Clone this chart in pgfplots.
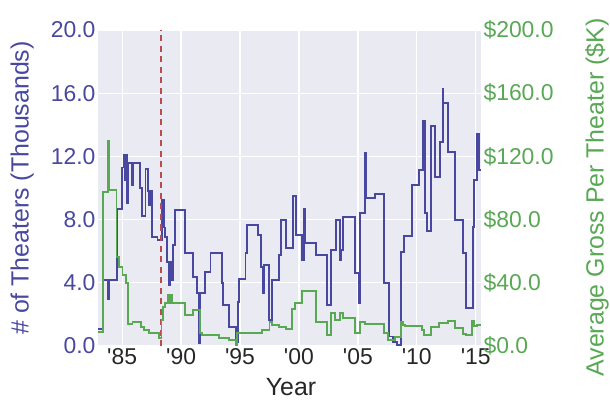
\documentclass[border=0pt]{standalone}
\usepackage{fontspec}
\setmainfont{Liberation Sans}[Ligatures=TeXOff]
\usepackage{pgfplots}
\pgfplotsset{compat=1.18}
\definecolor{cblue}{RGB}{72,72,160}
\definecolor{cgreen}{RGB}{88,168,84}
\definecolor{cred}{RGB}{184,76,78}
\definecolor{bgc}{RGB}{234,234,242}
\begin{document}
\begin{tikzpicture}
\begin{axis}[
  at={(0,0)}, anchor=south west,
  width=383bp, height=316bp, scale only axis,
  xmin=1982.95, xmax=2015.45, ymin=0, ymax=20,
  xtick={1985,1990,1995,2000,2005,2010,2015},
  xticklabels={'85,'90,'95,'00,'05,'10,'15},
  ytick={0,4,8,12,16,20},
  yticklabels={0.0,4.0,8.0,12.0,16.0,20.0},
  grid=major,
  major grid style={white, line width=1.3bp},
  axis line style={draw=none},
  major tick length=0pt,
  axis background/.style={fill=bgc},
  tick label style={font=\fontsize{23}{27}\selectfont},
  yticklabel style={text=cblue, xshift=1bp},
  xticklabel style={text=black!85, yshift=1bp},
  xlabel={Year},
  ylabel={\# of Theaters (Thousands)},
  label style={font=\fontsize{25}{29}\selectfont},
  xlabel style={at={(axis description cs:0.504,-0.13)}, anchor=center, text=black!85},
  ylabel style={at={(axis description cs:-0.198,0.5)}, anchor=center, rotate=0, text=cblue},
  clip=true,
]
\addplot[cblue, line width=1.9bp, const plot] coordinates {
(1982.95,1.1) (1983.39,4.16) (1983.80,3.0) (1983.90,4.16) (1984.55,8.65)
(1985.0,11.3) (1985.15,12.1) (1985.25,10.5) (1985.32,12.1) (1985.44,9.05)
(1985.52,11.6) (1985.85,10.2) (1985.92,11.6) (1986.5,10.0) (1986.7,8.2)
(1986.98,11.2) (1987.18,9.8) (1987.27,8.9) (1987.33,9.8) (1987.5,6.9)
(1988.0,6.7) (1988.4,9.24) (1988.55,7.5) (1988.65,6.9) (1988.8,5.34)
(1988.95,3.86) (1989.05,5.34) (1989.2,4.2) (1989.35,6.4) (1989.45,8.6)
(1990.3,5.87) (1991.03,4.39) (1991.37,3.35) (1991.5,0.2) (1991.58,3.35)
(1992.02,4.7) (1992.5,5.87) (1993.49,3.96) (1993.57,2.59) (1994.06,1.22)
(1994.63,0.27) (1994.82,2.8) (1994.9,4.22) (1995.47,5.87) (1995.61,7.66)
(1996.54,7.03) (1996.8,5.02) (1996.95,3.35) (1997.02,5.13) (1997.45,1.65)
(1997.73,4.2) (1998.3,5.76) (1998.45,7.97) (1998.87,6.18) (1999.49,9.49)
(1999.77,7.03) (2000.25,5.44) (2000.4,8.65) (2000.48,6.54) (2001.47,5.76)
(2002.4,2.59) (2002.74,6.08) (2003.17,7.97) (2003.45,5.44) (2003.6,6.08)
(2003.74,8.18) (2004.78,4.6) (2005.12,2.7) (2005.2,8.4) (2005.58,12.2)
(2005.7,9.35) (2006.48,9.62) (2007.19,3.96) (2007.61,0.6) (2008.0,0.25)
(2008.3,0.05) (2008.68,5.97) (2008.89,6.96) (2009.59,10.19) (2010.21,11.14)
(2010.55,14.26) (2010.72,8.4) (2010.84,7.3) (2011.2,13.92) (2011.57,10.72)
(2011.97,12.93) (2012.2,16.25) (2012.27,15.4) (2012.62,12.3) (2013.27,8.0)
(2013.89,5.87) (2014.18,2.38) (2014.74,7.55) (2014.88,10.5) (2015.08,13.4)
(2015.3,11.14) (2015.45,11.14)
};
\addplot[cred, line width=2bp, dash pattern=on 6bp off 4.5bp] coordinates {(1988.26,0) (1988.26,20)};
\end{axis}
\begin{axis}[
  at={(0,0)}, anchor=south west,
  width=383bp, height=316bp, scale only axis,
  xmin=1982.95, xmax=2015.45, ymin=0, ymax=200,
  axis x line=none,
  axis y line*=right,
  axis line style={draw=none},
  major tick length=0pt,
  ytick={0,40,80,120,160,200},
  yticklabels={\$0.0,\$40.0,\$80.0,\$120.0,\$160.0,\$200.0},
  tick label style={font=\fontsize{23}{27}\selectfont},
  yticklabel style={text=cgreen, xshift=-1bp},
  ylabel={Average Gross Per Theater (\$K)},
  label style={font=\fontsize{25}{29}\selectfont},
  ylabel style={at={(axis description cs:1.303,0.47)}, anchor=center, rotate=0, text=cgreen},
]
\addplot[cgreen, line width=1.9bp, const plot] coordinates {
(1982.95,9) (1983.39,97.7) (1983.81,130) (1983.9,99) (1984.52,56.5)
(1984.75,50.2) (1985.03,45) (1985.31,39.7) (1985.46,14) (1985.88,15.4)
(1986.59,12.2) (1986.87,10.1) (1987.29,8.4) (1988.14,4.9) (1988.34,16.5)
(1988.5,24.9) (1988.65,27) (1988.85,32.3) (1988.95,27) (1989.05,32.3)
(1989.2,27.4) (1990.3,19.6) (1991.03,22.8) (1991.6,8) (1991.75,7)
(1993.2,4.9) (1994.06,3.8) (1994.63,0.6) (1994.75,8) (1996.83,10.1)
(1997.5,15.4) (1997.68,13.3) (1998.3,11.8) (1998.87,10.8) (1999.41,23.2)
(1999.64,27.4) (2000.25,34.6) (2001.47,15.4) (2002.4,7) (2002.74,20.7)
(2003.08,16.5) (2003.45,20.7) (2003.74,17.5) (2004.78,8) (2005.2,15.4)
(2005.63,13.9) (2007.19,8) (2007.55,3.8) (2008.18,5.9) (2008.68,15.4)
(2008.85,13.3) (2009.02,12.5) (2010.44,10) (2010.64,7) (2011.2,12.2)
(2011.91,14.8) (2012.62,16) (2013.27,11.2) (2013.89,7.6) (2014.18,7)
(2014.69,16) (2014.85,12.5) (2015.08,13.3) (2015.45,13.3)
};
\end{axis}
\pgfresetboundingbox
\path (-98bp,-73bp) rectangle (512bp,346bp);
\end{tikzpicture}
\end{document}
